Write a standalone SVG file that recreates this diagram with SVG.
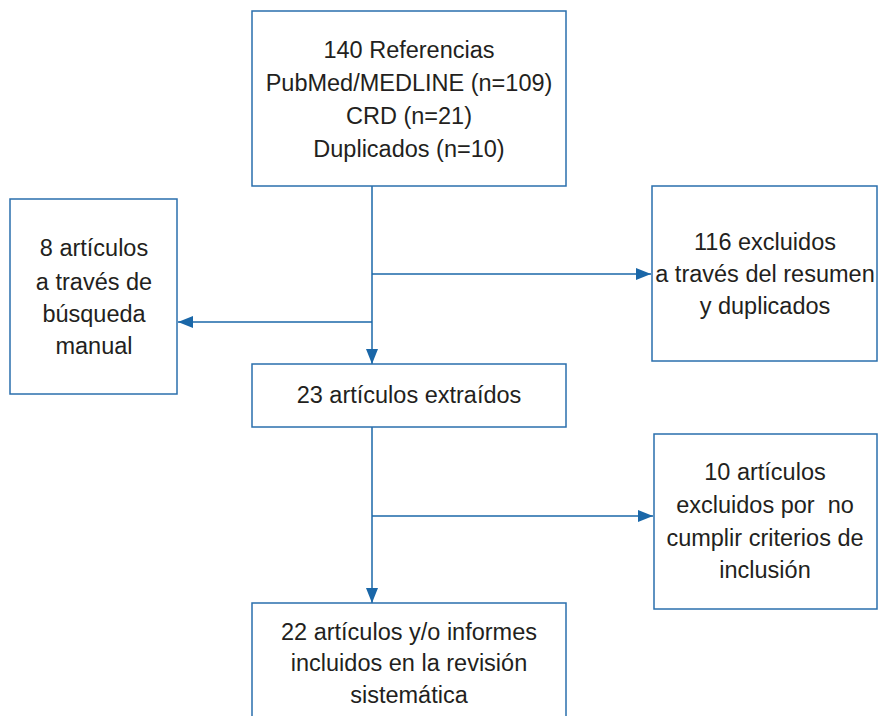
<svg xmlns="http://www.w3.org/2000/svg" width="878" height="716" viewBox="0 0 878 716">
<defs>
<style>
.box{fill:#fff;stroke:#2a6fad;stroke-width:1.5}
.t{font-family:"Liberation Sans",Arial,sans-serif;font-size:23.5px;fill:#231f20;text-anchor:middle;white-space:pre}
.c{stroke:#1a67a8;stroke-width:1.5;fill:none}
</style>
<marker id="ah" markerWidth="15" markerHeight="12" refX="15" refY="6" orient="auto" markerUnits="userSpaceOnUse">
<path d="M0,0 L15,6 L0,12 Z" fill="#1a67a8"/>
</marker>
</defs>
<rect width="878" height="716" fill="#fff"/>
<g id="connectors">
<line class="c" x1="372" y1="186" x2="372" y2="364" marker-end="url(#ah)"/>
<line class="c" x1="372" y1="274" x2="651" y2="274" marker-end="url(#ah)"/>
<line class="c" x1="372" y1="322" x2="178" y2="322" marker-end="url(#ah)"/>
<line class="c" x1="372" y1="427" x2="372" y2="603" marker-end="url(#ah)"/>
<line class="c" x1="372" y1="516" x2="653" y2="516" marker-end="url(#ah)"/>
</g>
<g id="n1">
<rect class="box" x="252" y="11" width="314" height="175"/>
<text class="t" x="409" y="58">140 Referencias</text>
<text class="t" x="409" y="91">PubMed/MEDLINE (n=109)</text>
<text class="t" x="409" y="124">CRD (n=21)</text>
<text class="t" x="409" y="157">Duplicados (n=10)</text>
</g>
<g id="n2">
<rect class="box" x="10" y="199" width="167" height="195"/>
<text class="t" x="94" y="256">8 artículos</text>
<text class="t" x="94" y="290">a través de</text>
<text class="t" x="94" y="322">búsqueda</text>
<text class="t" x="94" y="354">manual</text>
</g>
<g id="n3">
<rect class="box" x="652" y="186" width="225" height="175"/>
<text class="t" x="765" y="250">116 excluidos</text>
<text class="t" x="765" y="282">a través del resumen</text>
<text class="t" x="765" y="314">y duplicados</text>
</g>
<g id="n4">
<rect class="box" x="252" y="364" width="314" height="63"/>
<text class="t" x="409" y="403">23 artículos extraídos</text>
</g>
<g id="n5">
<rect class="box" x="654" y="434" width="223" height="175"/>
<text class="t" x="765" y="480">10 artículos</text>
<text class="t" x="765" y="513" xml:space="preserve">excluidos por  no</text>
<text class="t" x="765" y="546">cumplir criterios de</text>
<text class="t" x="765" y="578">inclusión</text>
</g>
<g id="n6">
<rect class="box" x="252" y="603" width="314" height="130"/>
<text class="t" x="409" y="640">22 artículos y/o informes</text>
<text class="t" x="409" y="671">incluidos en la revisión</text>
<text class="t" x="409" y="703">sistemática</text>
</g>
</svg>
